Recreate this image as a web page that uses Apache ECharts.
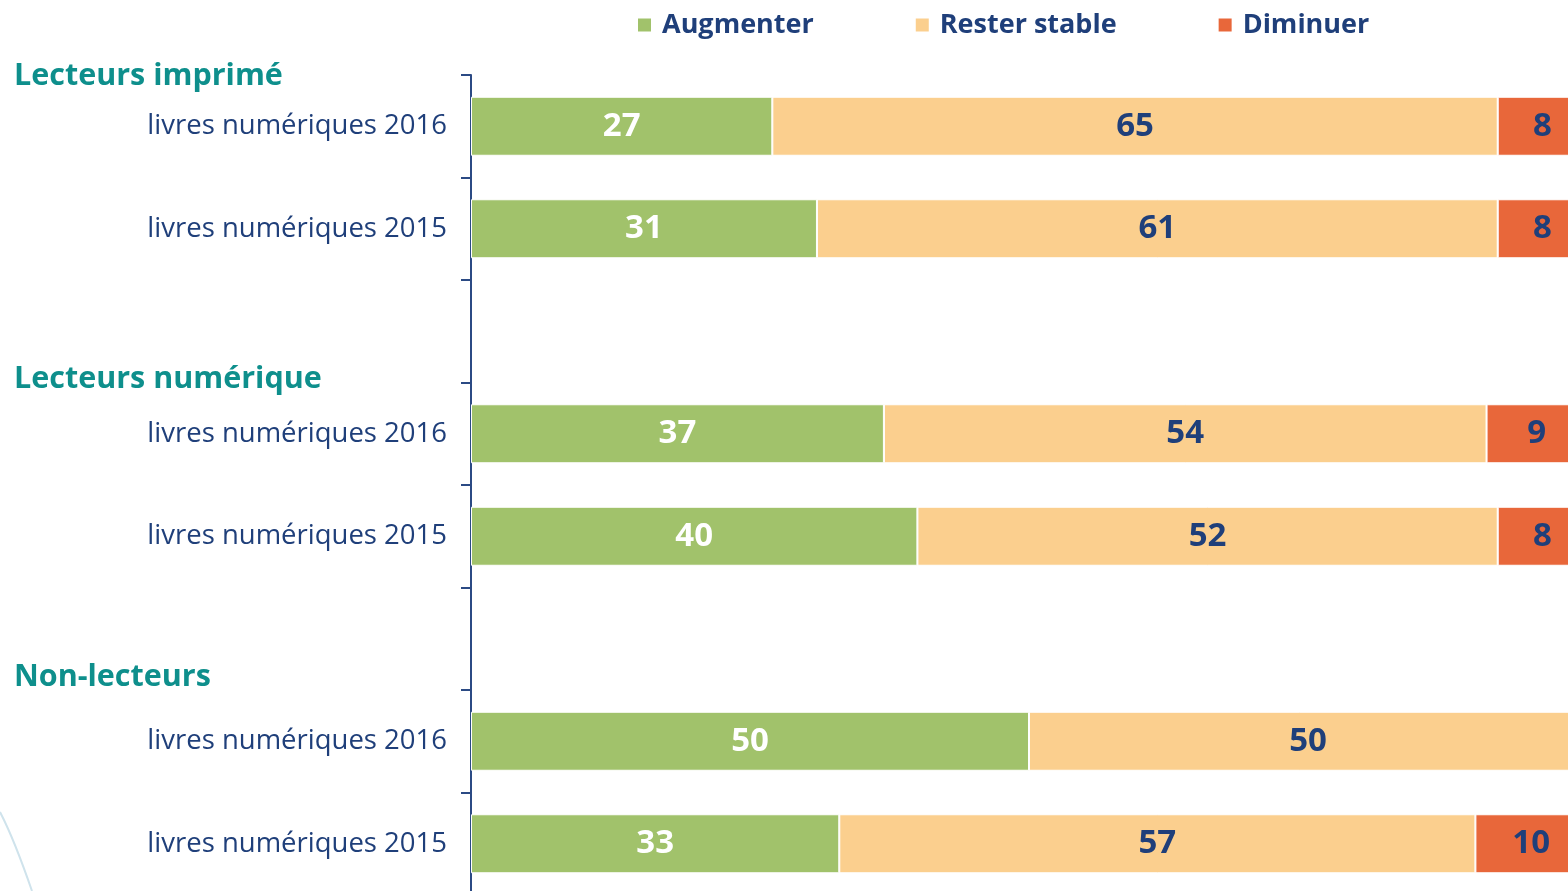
<!DOCTYPE html>
<html>
<head>
<meta charset="utf-8">
<script src="https://cdn.jsdelivr.net/npm/echarts@6/dist/echarts.min.js"></script>
<style>
  html, body { margin: 0; padding: 0; background: #fff; }
  #chart { width: 1568px; height: 891px; }
</style>
</head>
<body>
<div id="chart"></div>
<script>
// rows top to bottom, blank rows separate the three groups
const categories = [
  'livres numériques 2016', 'livres numériques 2015', '',
  'livres numériques 2016', 'livres numériques 2015', '',
  'livres numériques 2016', 'livres numériques 2015'
]
const groups = ['Lecteurs imprimé', 'Lecteurs numérique', 'Non-lecteurs']
const augmenter = [27, 31, null, 37, 40, null, 50, 33]
const resterStable = [65, 61, null, 54, 52, null, 50, 57]
const diminuer = [8, 8, null, 9, 8, null, null, 10]

const navy = '#1f3f7a'
const teal = '#0e8f8c'
const font = 'Open Sans'

const chart = echarts.init(document.getElementById('chart'))

function barSeries(name, data, color, labelColor) {
  return {
    name,
    type: 'bar',
    stack: 'total',
    data,
    barWidth: 59,
    clip: false,
    itemStyle: { color, borderColor: '#fff', borderWidth: 1 },
    label: {
      show: true,
      position: 'inside',
      color: labelColor,
      fontFamily: font,
      fontWeight: 'bold',
      fontSize: 33
    },
    emphasis: { disabled: true }
  }
}

chart.setOption({
  animation: false,
  legend: {
    left: 636,
    top: 10,
    padding: 0,
    icon: 'rect',
    itemWidth: 15,
    itemHeight: 15,
    itemGap: 100,
    textStyle: {
      color: navy,
      fontFamily: font,
      fontWeight: 'bold',
      fontSize: 27,
      lineHeight: 30,
      padding: [0, 0, 0, 5]
    },
    data: ['Augmenter', 'Rester stable', 'Diminuer']
  },
  // the 100% end sits a little past the right edge of the picture
  grid: { left: 471, top: 75, right: -19, bottom: -4, outerBoundsMode: 'none' },
  xAxis: { type: 'value', min: 0, max: 100, show: false },
  yAxis: {
    type: 'category',
    inverse: true,
    data: categories,
    axisLine: { show: true, lineStyle: { color: '#2b4a84', width: 2 } },
    axisTick: { show: true, length: 10, lineStyle: { color: '#2b4a84', width: 2 } },
    axisLabel: {
      margin: 24,
      color: navy,
      fontFamily: font,
      fontSize: 27.5,
      padding: [3, 0, 0, 0]
    }
  },
  graphic: [
    ...groups.map((g, i) => ({
      type: 'text',
      left: 14,
      top: [61, 364, 662][i],
      style: { text: g, fill: teal, font: 'bold 30.5px "Open Sans"' }
    })),
    {
      type: 'bezierCurve',
      shape: { x1: 0, y1: 812, x2: 32, y2: 891, cpx1: 12, cpy1: 835, cpx2: 22, cpy2: 862 },
      style: { stroke: '#cfe3ec', lineWidth: 2, fill: null }
    }
  ],
  series: [
    barSeries('Augmenter', augmenter, '#a1c26b', '#fff'),
    barSeries('Rester stable', resterStable, '#fbcf8e', navy),
    barSeries('Diminuer', diminuer, '#e8673a', navy)
  ]
})
</script>
</body>
</html>
